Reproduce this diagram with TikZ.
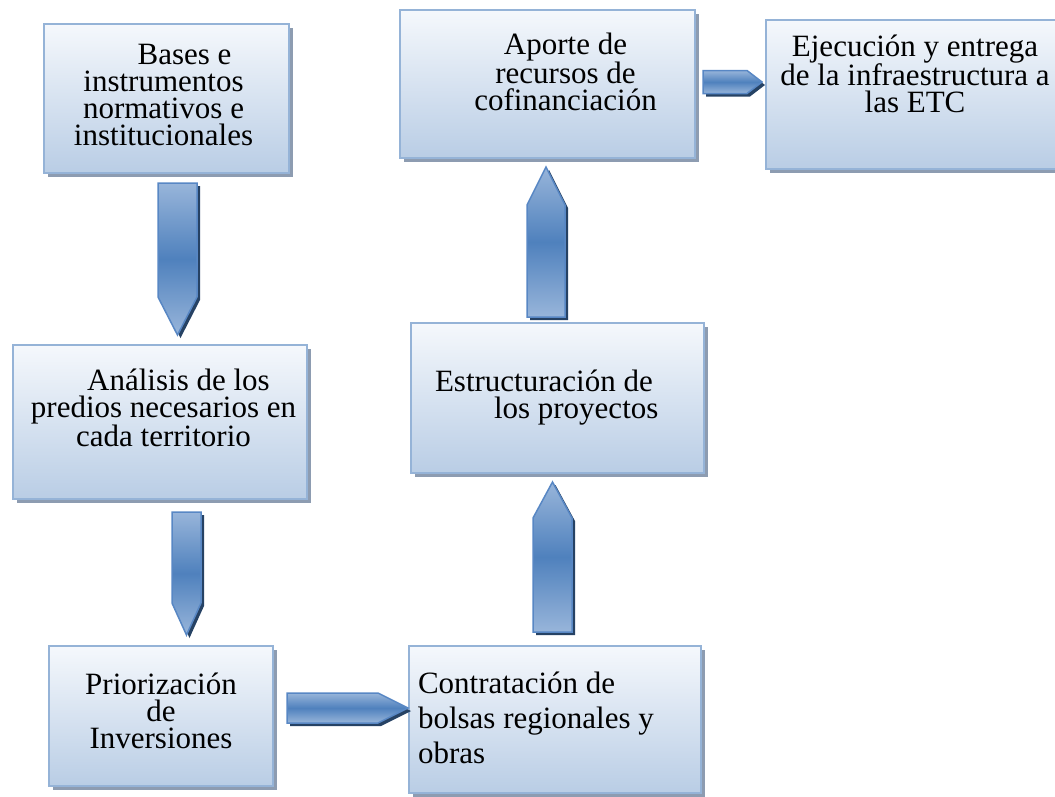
\documentclass[tikz,border=0pt]{standalone}
\usepackage{fontspec}
\setmainfont{Liberation Serif}
\usetikzlibrary{calc,shadows}
\setlength{\lineskiplimit}{-100pt}

\definecolor{cajaborde}{RGB}{149,179,215}
\definecolor{cajaarriba}{RGB}{245,248,252}
\definecolor{cajaabajo}{RGB}{185,205,229}
\definecolor{cajagris}{RGB}{141,156,177}
\definecolor{azulclaro}{RGB}{152,181,218}
\definecolor{azuloscuro}{RGB}{79,129,189}
\definecolor{azulborde}{RGB}{88,135,196}
\definecolor{azulsombra}{RGB}{38,66,100}

\tikzset{
  caja/.style={draw=cajaborde, line width=2pt, top color=cajaarriba, bottom color=cajaabajo,
    inner sep=0pt, anchor=north west, font=\fontsize{31}{27}\selectfont,
    drop shadow={shadow xshift=4pt, shadow yshift=-4pt, fill=cajagris, opacity=1}},
  flechacuerpo/.style={draw=azulborde, line width=1.5pt, top color=azulclaro,
    bottom color=azulclaro, middle color=azuloscuro},
  flechasombra/.style={fill=azulsombra, transform canvas={xshift=3pt, yshift=-3pt}}
}

% ancho, alto, primera linea, alineacion, texto
\newcommand{\cajatxt}[5]{\parbox[c][#2][t]{#1}{#4\rule{0pt}{#3}#5}}

% inicio, fin, medio ancho, largo de la punta
\newcommand{\flecha}[4]{%
  \coordinate (cuello) at ($(#2)!#4!(#1)$);
  \path[flechasombra] ($(#1)!#3!90:(#2)$) -- ($(cuello)!#3!90:(#2)$) -- (#2)
    -- ($(cuello)!#3!-90:(#2)$) -- ($(#1)!#3!-90:(#2)$) -- cycle;
  \path[flechacuerpo] ($(#1)!#3!90:(#2)$) -- ($(cuello)!#3!90:(#2)$) -- (#2)
    -- ($(cuello)!#3!-90:(#2)$) -- ($(#1)!#3!-90:(#2)$) -- cycle;
}

\begin{document}
\begin{tikzpicture}[x=1pt, y=-1pt]
\useasboundingbox (0,0) rectangle (1055,796);

\node[caja] (bases) at (43,23) {\cajatxt{245pt}{149pt}{40pt}{\centering\advance\leftskip-6pt\relax}%
  {\hspace*{42pt}Bases e\\instrumentos\\normativos e\\institucionales}};
\node[caja] (analisis) at (12,344) {\cajatxt{294pt}{154pt}{45pt}{\centering\advance\leftskip 7pt\relax}%
  {\hspace*{30pt}Análisis de los\\predios necesarios en\\cada territorio}};
\node[caja] (priorizacion) at (48,645) {\cajatxt{224pt}{140pt}{48pt}{\centering}%
  {Priorización\\de\\Inversiones}};
\node[caja, font=\fontsize{31}{35}\selectfont] (contratacion) at (408,645)
  {\cajatxt{292pt}{147pt}{47pt}{\raggedright\leftskip=9pt\relax}%
  {Contratación de\\bolsas regionales y\\obras}};
\node[caja] (estructuracion) at (410,322) {\cajatxt{293pt}{150pt}{68pt}{\raggedright}%
  {\hspace*{24pt}Estructuración de\\\hspace*{83pt}los proyectos}};
\node[caja] (aporte) at (399,9) {\cajatxt{295pt}{148pt}{44pt}{\centering\advance\leftskip 36pt\relax}%
  {Aporte de\\recursos de\\cofinanciación}};
\node[caja] (ejecucion) at (765,19) {\cajatxt{298pt}{149pt}{36pt}{\centering}%
  {Ejecución y entrega\\de la infraestructura a\\las ETC}};

\coordinate (a1i) at (177.5,183);
\coordinate (a1f) at (177.5,335);
\coordinate (a2i) at (186.5,512);
\coordinate (a2f) at (186.5,635);
\coordinate (a3i) at (287,708);
\coordinate (a3f) at (408,708);
\coordinate (a4i) at (552.5,632);
\coordinate (a4f) at (552.5,482);
\coordinate (a5i) at (546,317);
\coordinate (a5f) at (546,167);
\coordinate (a6i) at (703,82);
\coordinate (a6f) at (762,82);

\flecha{a1i}{a1f}{19.5pt}{38pt}
\flecha{a2i}{a2f}{14.5pt}{32pt}
\flecha{a3i}{a3f}{15pt}{30pt}
\flecha{a4i}{a4f}{19.5pt}{36pt}
\flecha{a5i}{a5f}{19pt}{38pt}
\flecha{a6i}{a6f}{11.5pt}{15pt}
\end{tikzpicture}
\end{document}
